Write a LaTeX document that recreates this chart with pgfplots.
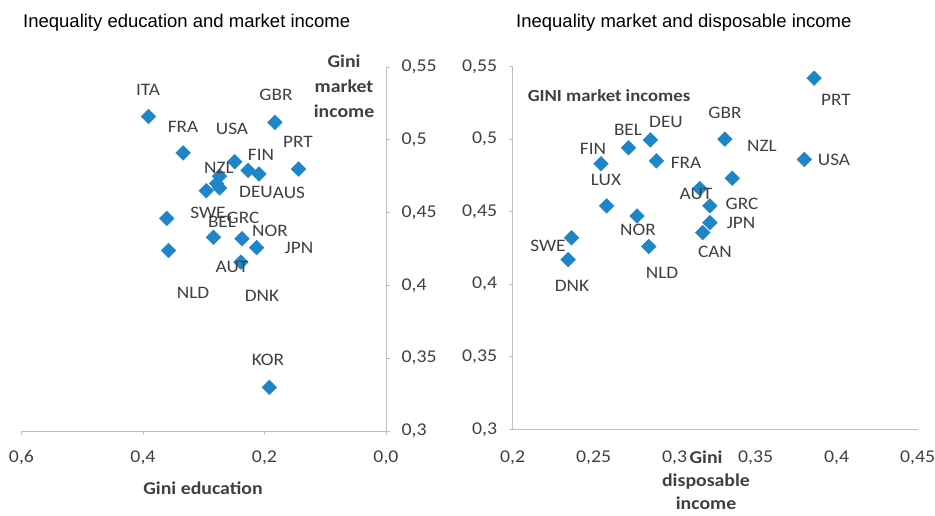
\documentclass[border=0pt]{standalone}
\usepackage{fontspec}
\setmainfont{Carlito}[FakeStretch=1.1]
\newfontfamily\titlefont{Liberation Sans}
\usepackage{pgfplots}
\usepackage{pgfplotstable}
\pgfplotsset{compat=1.18}
\definecolor{mblue}{RGB}{30,133,199}
\definecolor{axgray}{RGB}{191,191,191}
\definecolor{txt}{RGB}{64,64,64}

\pgfplotstableread{
name edu mkt
ITA 0.391 0.516
FRA 0.334 0.491
USA 0.249 0.485
GBR 0.183 0.512
PRT 0.144 0.480
FIN 0.227 0.479
AUS 0.209 0.4765
NZL 0.274 0.475
DEU 0.279 0.470
BEL 0.296 0.465
GRC 0.274 0.467
SWE 0.361 0.446
NLD 0.358 0.424
BEL2 0.284 0.433
NOR 0.237 0.432
JPN 0.213 0.426
AUT 0.239 0.416
KOR 0.192 0.330
}\lefttab

\pgfplotstableread{
name disp mkt
PRT 0.386 0.542
GBR 0.331 0.500
USA 0.380 0.486
NZL 0.3355 0.473
DEU 0.285 0.4995
BEL 0.2715 0.494
FRA 0.2887 0.485
FIN 0.2545 0.483
LUX 0.258 0.454
NOR 0.2767 0.447
NLD 0.284 0.426
SWE 0.2363 0.432
DNK 0.2342 0.417
AUT 0.3155 0.466
GRC 0.3217 0.454
JPN 0.3217 0.4425
CAN 0.3173 0.4356
}\righttab

\newcommand{\lab}[3]{\node[txt,font=\fontsize{17.5}{20}\selectfont,inner sep=0pt,anchor=center] at (#1pt,515pt-#2pt) {#3};}

\begin{document}
\begin{tikzpicture}
\useasboundingbox (0pt,0pt) rectangle (935pt,515pt);
\pgfplotsset{
  every axis/.append style={
    scale only axis,
    anchor=south west,
    ymin=0.3, ymax=0.55,
    ytick={0.3,0.35,0.4,0.45,0.5,0.55},
    yticklabels={{0,3},{0,35},{0,4},{0,45},{0,5},{0,55}},
    axis line style={axgray,-,line width=1pt},
    tick style={axgray,line width=1pt},
    tick align=outside,
    major tick length=4pt,
    ticklabel style={txt,font=\fontsize{18}{20}\selectfont},
    clip=false,
  },
}
% left
\begin{axis}[at={(21.5pt,84pt)}, width=364.5pt, height=364pt,
  xmin=-0.6, xmax=0,
  axis x line*=bottom, axis y line*=right,
  xtick={-0.6,-0.4,-0.2,0},
  xticklabels={{0,6},{0,4},{0,2},{0,0}},
  xticklabel style={yshift=-12pt},
  yticklabel style={xshift=8pt},
]
\addplot[only marks, mark=square*, mark size=5.2pt, mblue,
  every mark/.append style={rotate=45}]
  table[x expr=-\thisrow{edu}, y=mkt] {\lefttab};
\end{axis}
% right
\begin{axis}[at={(512.7pt,85.5pt)}, width=405pt, height=363pt,
  xmin=0.2, xmax=0.45,
  axis x line*=bottom, axis y line*=left,
  xtick={0.2,0.25,0.3,0.35,0.4,0.45},
  xticklabels={{0,2},{0,25},{0,3},{0,35},{0,4},{0,45}},
  xtick style={draw=none},
  xticklabel style={yshift=-14pt},
  yticklabel style={xshift=-8pt},
]
\addplot[only marks, mark=square*, mark size=5.2pt, mblue,
  every mark/.append style={rotate=45}]
  table[x=disp, y=mkt] {\righttab};
\end{axis}
% titles
\node[anchor=west,inner sep=0pt,font=\titlefont\fontsize{18.5}{20}\selectfont] at (23pt,492pt) {Inequality education and market income};
\node[anchor=west,inner sep=0pt,font=\titlefont\fontsize{18.5}{20}\selectfont] at (516pt,492pt) {Inequality market and disposable income};
% axis titles
\node[txt,font=\bfseries\fontsize{18}{24}\selectfont,inner sep=0pt] at (203pt,27pt) {Gini education};
\node[txt,font=\bfseries\fontsize{18}{25}\selectfont,inner sep=0pt,align=center,anchor=north] at (344pt,460pt) {Gini\\market\\income};
\node[txt,font=\bfseries\fontsize{18}{23}\selectfont,inner sep=0pt,align=center,anchor=north] at (706pt,64pt) {Gini\\disposable\\income};
\node[txt,font=\bfseries\fontsize{17}{20}\selectfont,inner sep=0pt] at (609pt,419pt) {GINI market incomes};
% left labels
\lab{148}{90}{ITA}
\lab{183}{127}{FRA}
\lab{232}{129}{USA}
\lab{276}{95}{GBR}
\lab{298}{142}{PRT}
\lab{261}{155}{FIN}
\lab{219}{168}{NZL}
\lab{256}{192}{DEU}
\lab{289}{193}{AUS}
\lab{208}{213}{SWE}
\lab{222}{222}{BEL}
\lab{243}{218}{GRC}
\lab{270}{231}{NOR}
\lab{299}{248}{JPN}
\lab{232}{267}{AUT}
\lab{193}{293}{NLD}
\lab{262}{296}{DNK}
\lab{268}{360}{KOR}
% right labels
\lab{836}{100}{PRT}
\lab{725}{113}{GBR}
\lab{762}{146}{NZL}
\lab{834}{160}{USA}
\lab{666}{122}{DEU}
\lab{628}{130}{BEL}
\lab{686}{163}{FRA}
\lab{593}{149}{FIN}
\lab{606}{180}{LUX}
\lab{638}{230}{NOR}
\lab{662}{273}{NLD}
\lab{548}{246}{SWE}
\lab{572}{286}{DNK}
\lab{696}{194}{AUT}
\lab{742}{204}{GRC}
\lab{741}{223}{JPN}
\lab{715}{252}{CAN}
\end{tikzpicture}
\end{document}
